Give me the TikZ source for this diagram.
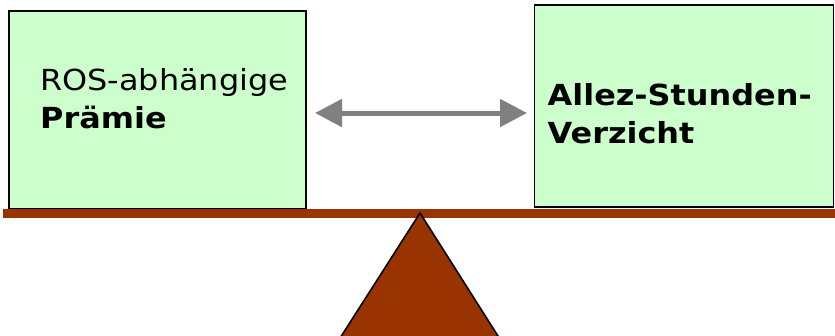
\documentclass[tikz,border=0pt]{standalone}
\usepackage{fontspec}
\usetikzlibrary{arrows.meta}
\newfontfamily\boxfont[FakeStretch=1.1]{DejaVu Sans}
\definecolor{boxgreen}{HTML}{CCFFCC}
\definecolor{beambrown}{HTML}{993300}
\definecolor{arrowgray}{HTML}{808080}
\begin{document}
\begin{tikzpicture}[x=1pt,y=-1pt,
  panel/.style={draw=black, line width=1.6pt, fill=boxgreen, rectangle, inner sep=0pt},
  boxtext/.style={anchor=base west, inner sep=0pt, font=\boxfont\fontsize{29}{38}\selectfont},
  balarrow/.style={draw=arrowgray, line width=5pt, {Triangle[length=27pt,width=27pt]}-{Triangle[length=27pt,width=27pt]}}]
\useasboundingbox (0,0) rectangle (835,335);
\clip (0,0) rectangle (835,335);
% boxes
\node[panel, minimum width=297pt, minimum height=198pt] (lbox) at (157.5,110) {};
\node[panel, minimum width=299pt, minimum height=202pt] (rbox) at (684,106) {};
% beam
\fill[beambrown] (3,209.3) rectangle (835,218.3);
% fulcrum
\coordinate (apex) at (420,213);
\coordinate (bl) at (335.6,345);
\coordinate (br) at (503.7,345);
\draw[fill=beambrown, draw=black, line width=1.6pt, line join=miter] (apex) -- (bl) -- (br) -- cycle;
% texts
\node[boxtext] (l1) at (40,90) {ROS-abhängige};
\node[boxtext] (l2) at (40,128) {\bfseries Prämie};
\node[boxtext] (r1) at (547.5,105) {\bfseries Allez-Stunden-};
\node[boxtext] (r2) at (547.5,143) {\bfseries Verzicht};
% arrow
\coordinate (a1) at (315,113);
\coordinate (a2) at (527,113);
\draw[balarrow] (a1) -- (a2);
\end{tikzpicture}
\end{document}
